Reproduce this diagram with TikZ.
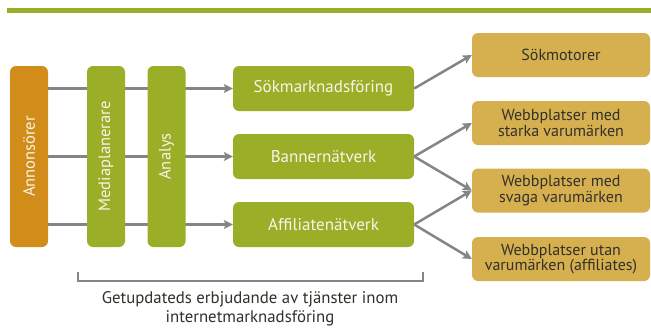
\documentclass[tikz,border=0pt]{standalone}
\usepackage{fontspec}
\setmainfont{PT Sans}
\usetikzlibrary{arrows.meta,backgrounds}
\definecolor{lgreen}{HTML}{9BAE28}
\definecolor{orng}{HTML}{D18C1A}
\definecolor{gold}{HTML}{D6B04F}
\definecolor{arrgray}{HTML}{858585}
\definecolor{txtdark}{HTML}{33302A}
\definecolor{ltxt}{HTML}{F6F6E8}
\tikzset{
  vbox/.style={rounded corners=6pt, minimum width=181pt, minimum height=38pt, inner sep=0pt, text=ltxt, font=\fontsize{16.5}{18}\selectfont},
  midbox/.style={fill=lgreen, rounded corners=6pt, minimum width=181pt, minimum height=45pt, inner sep=0pt, text=ltxt, font=\fontsize{17}{19}\selectfont},
  rbox/.style={fill=gold, rounded corners=6pt, minimum width=178pt, minimum height=44pt, inner sep=0pt, text=txtdark, align=center, font=\fontsize{16}{15.5}\selectfont},
  conn/.style={draw=arrgray, line width=2.5pt, -{Stealth[length=9pt,width=9pt,inset=2pt]}},
}
\begin{document}
\begin{tikzpicture}[x=1pt,y=-1pt]
\useasboundingbox (0,0) rectangle (651,327);
\fill[lgreen] (7,8) rectangle (651,13);
\node[vbox, fill=orng, rotate=90] (ann) at (29,156.5) {Annonsörer};
\node[vbox, fill=lgreen, rotate=90] (med) at (106,156.5) {Mediaplanerare};
\node[vbox, fill=lgreen, rotate=90] (ana) at (166.5,156.5) {Analys};
\node[midbox] (sok) at (323.5,88.5) {Sökmarknadsföring};
\node[midbox] (ban) at (323.5,156.5) {Bannernätverk};
\node[midbox] (aff) at (323.5,224.5) {Affiliatenätverk};
\node[rbox] (smo) at (561,55) {Sökmotorer};
\node[rbox] (sta) at (561,123) {Webbplatser med\\starka varumärken};
\node[rbox] (sva) at (561,190.5) {Webbplatser med\\svaga varumärken};
\node[rbox] (uta) at (561,259) {Webbplatser utan\\varumärken (affiliates)};
\begin{scope}[on background layer]
\draw[conn] (ann.center |- sok.west) -- (sok.west);
\draw[conn] (ann.center |- ban.west) -- (ban.west);
\draw[conn] (ann.center |- aff.west) -- (aff.west);
\end{scope}
\draw[conn] (sok.east) -- (smo.west);
\draw[conn] (ban.east) -- (sta.west);
\draw[conn] (ban.east) -- (sva.west);
\draw[conn] (aff.east) -- (sva.west);
\draw[conn] (aff.east) -- (uta.west);
\coordinate (bl) at (78,281);
\coordinate (br) at (423,281);
\draw[draw=arrgray, line width=1.5pt] ([shift={(0,-9)}]bl) -- (bl) -- (br) -- ([shift={(0,-9)}]br);
\node[text=txtdark, align=center, font=\fontsize{16.8}{19.5}\selectfont] (lbl) at (250,309) {Getupdateds erbjudande av tjänster inom\\internetmarknadsföring};
\end{tikzpicture}
\end{document}
